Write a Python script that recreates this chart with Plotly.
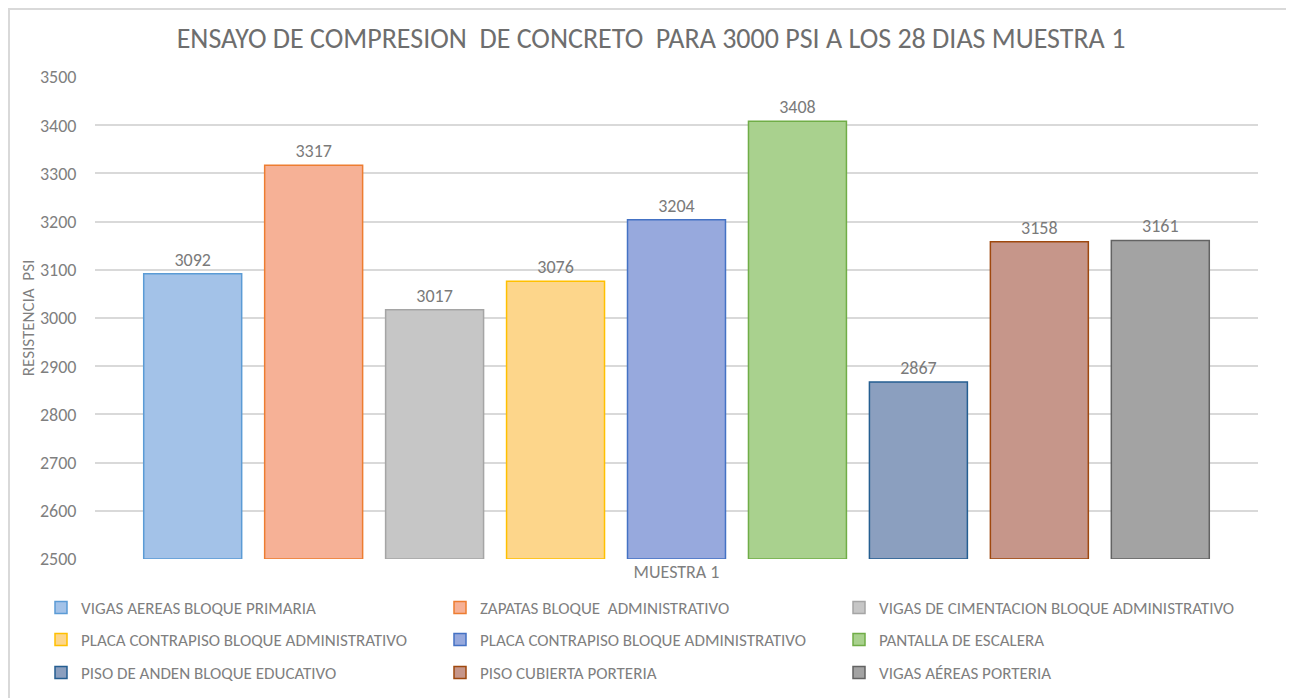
import plotly.graph_objects as go

categories = ["MUESTRA 1"]
series_names = [
    "VIGAS AEREAS BLOQUE PRIMARIA",
    "ZAPATAS BLOQUE  ADMINISTRATIVO",
    "VIGAS DE CIMENTACION BLOQUE ADMINISTRATIVO",
    "PLACA CONTRAPISO BLOQUE ADMINISTRATIVO",
    "PLACA CONTRAPISO BLOQUE ADMINISTRATIVO",
    "PANTALLA DE ESCALERA",
    "PISO DE ANDEN BLOQUE EDUCATIVO",
    "PISO CUBIERTA PORTERIA",
    "VIGAS AÉREAS PORTERIA",
]
series_values = [3092, 3317, 3017, 3076, 3204, 3408, 2867, 3158, 3161]
fill_colors = ["#a3c2e8", "#f6b196", "#c6c6c6", "#fdd68b", "#97a9dd",
               "#a9d18e", "#8b9fbf", "#c6968a", "#a3a3a3"]
line_colors = ["#5b9bd5", "#ed7d31", "#a5a5a5", "#ffc000", "#4472c4",
               "#70ad47", "#255e91", "#9e480e", "#636363"]
y_ticks = list(range(2500, 3501, 100))

FONT = "Carlito, Lato, sans-serif"
GRAY = "#7f7f7f"

OFF = 8  # page body margin
W, H = 1286, 690
L, R, T, B = 87, 36, 69, 139
pw, ph = W - L - R, H - T - B

def px(x):  # page x -> paper
    return (x - OFF - L) / pw

def py(y):  # page y -> paper
    return (H - B - (y - OFF)) / ph

legend_ids = ["legend", "legend", "legend", "legend2", "legend2", "legend2",
              "legend3", "legend3", "legend3"]

fig = go.Figure()
for name, val, fc, lc, lg in zip(series_names, series_values, fill_colors, line_colors, legend_ids):
    fig.add_trace(go.Bar(
        x=categories, y=[val - 2500], base=2500, name=name, legend=lg,
        marker=dict(color=fc, line=dict(color=lc, width=1.5)),
        text=[str(val)], textposition="outside",
        textfont=dict(family=FONT, size=18, color="#7a7a7a"),
        cliponaxis=False,
    ))

def legend_row(ycenter):
    return dict(orientation="h", x=px(41), xanchor="left", y=py(ycenter), yanchor="middle",
                entrywidth=354, entrywidthmode="pixels", traceorder="normal",
                itemwidth=30, bgcolor="rgba(0,0,0,0)",
                font=dict(family=FONT, size=17, color=GRAY))

fig.update_layout(
    width=W, height=H,
    margin=dict(l=L, r=R, t=T, b=B, autoexpand=False),
    paper_bgcolor="white", plot_bgcolor="white",
    barmode="group", bargap=0.064, bargroupgap=0.19,
    title=dict(text="ENSAYO DE COMPRESION  DE CONCRETO  PARA 3000 PSI A LOS 28 DIAS MUESTRA 1",
               x=0.5, xanchor="center", y=1 - (38 - OFF) / H, yanchor="middle",
               font=dict(family=FONT, size=28, color="#6e6e6e")),
    font=dict(family=FONT, color=GRAY),
    xaxis=dict(showgrid=False, showline=False, ticks="",
               tickfont=dict(family=FONT, size=18, color=GRAY)),
    yaxis=dict(range=[2500, 3500], tickvals=y_ticks, showgrid=True,
               gridcolor="#d9d9d9", gridwidth=1.5, zeroline=False,
               tickfont=dict(family=FONT, size=18, color=GRAY),
               ticks="outside", ticklen=14, tickcolor="rgba(0,0,0,0)",
               title=dict(text="RESISTENCIA  PSI", standoff=0,
                          font=dict(family=FONT, size=17, color=GRAY))),
    legend=legend_row(608),
    legend2=legend_row(640),
    legend3=legend_row(673),
    shapes=[dict(type="rect", xref="paper", yref="paper",
                 x0=px(9), x1=px(1291), y0=py(710), y1=py(9),
                 line=dict(color="#d9d9d9", width=2), fillcolor="rgba(0,0,0,0)", layer="below")],
)

fig.write_html("out.html")
